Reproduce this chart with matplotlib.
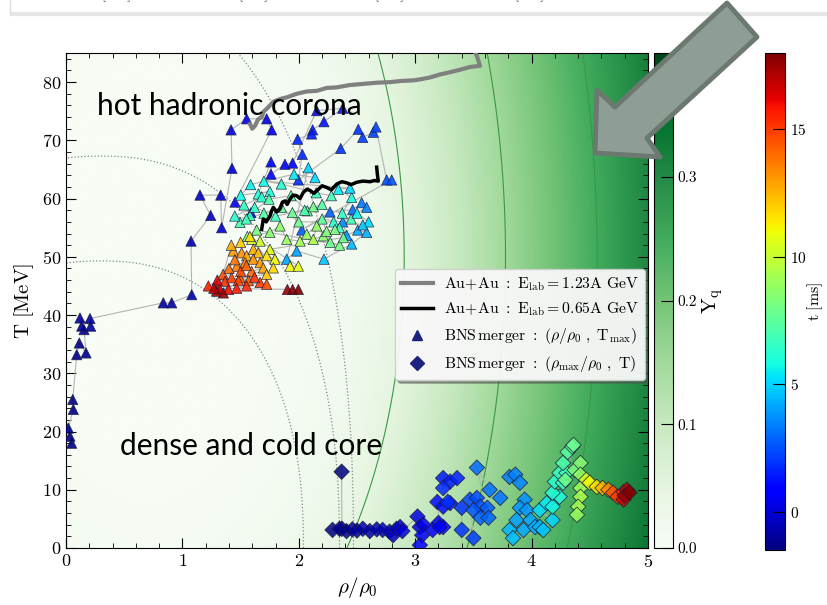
import matplotlib.pyplot as plt
import numpy as np
from matplotlib.colors import Normalize
from matplotlib.cm import ScalarMappable
from matplotlib.patches import Polygon
from matplotlib.lines import Line2D
from matplotlib.ticker import MultipleLocator, FormatStrFormatter

plt.rcParams['font.family'] = 'serif'
plt.rcParams['font.serif'] = ['cmr10']
plt.rcParams['mathtext.fontset'] = 'cm'
plt.rcParams['axes.formatter.use_mathtext'] = True

# BNS merger tracers: (rho/rho0, T_max) with time in ms, roughly in time order
tri_rho = [0.049, 0.034, 0.020, 0.063, 0.058, 0.092, 0.114, 0.172, 0.155, 0.135, 0.120, 0.212, 0.206, 0.836, 0.908, 1.080,
           1.074, 1.243, 1.151, 1.329, 1.337, 1.426, 1.418, 1.552, 1.724, 1.767, 1.452, 1.589, 1.761, 1.761, 1.881, 1.947,
           2.154, 2.377, 2.216, 2.119, 2.110, 1.990, 2.030, 1.996, 2.360, 2.511, 2.549, 2.640, 2.663, 2.755, 2.798,
           2.025, 2.268, 2.463, 2.540, 2.583, 2.377, 2.411, 2.506, 2.583, 2.454, 2.216, 1.982, 1.896,
           2.082, 2.139, 1.959, 1.586, 1.501, 1.752, 1.652, 1.681, 1.529, 1.581, 1.495, 1.744, 1.933, 2.073, 1.945, 2.125,
           2.374, 2.454, 2.340, 2.440,
           1.700, 1.850, 2.150, 2.280, 2.200, 2.050, 1.800, 1.620, 1.450, 1.550, 1.700, 1.850, 2.000,
           2.300, 2.350, 2.450, 2.500, 2.600, 2.550, 2.200, 2.270, 2.350,
           1.638, 1.558, 1.752, 1.839, 1.896, 2.011, 2.068, 2.154, 2.125, 2.211, 2.239, 2.311, 2.383,
           1.752, 1.795, 1.724, 1.925, 1.996, 1.667, 1.595, 1.781, 1.580, 1.500,
           1.438, 1.509, 1.552, 1.609, 1.652, 1.467, 1.538, 1.609, 1.667, 1.695, 1.595, 1.724, 1.495, 1.567,
           1.420, 1.350, 1.400, 1.450, 1.500, 1.550,
           1.223, 1.294, 1.366, 1.423, 1.481, 1.395, 1.323, 1.466, 1.552, 1.667, 1.724, 1.300, 1.620,
           1.294, 1.352, 1.270, 1.902, 1.947, 1.996]
tri_T = [18.0, 19.2, 20.6, 23.8, 25.5, 33.2, 35.2, 33.5, 37.5, 38.1, 39.5, 38.1, 39.4, 42.1, 42.1, 43.5,
         52.7, 57.1, 60.6, 60.6, 55.0, 65.2, 71.8, 73.7, 73.7, 71.8, 59.4, 57.6, 66.3, 64.2, 65.9, 66.1,
         75.1, 75.5, 73.2, 71.8, 71.1, 70.2, 67.6, 63.2, 68.6, 71.9, 70.5, 71.4, 72.3, 63.2, 63.2,
         54.6, 57.7, 58.1, 59.3, 58.5, 56.0, 53.7, 54.6, 54.2, 52.2, 49.6, 51.0, 49.6,
         65.3, 63.6, 64.2, 62.4, 60.6, 61.2, 60.8, 60.3, 58.9, 57.1, 55.9, 59.9, 60.5, 57.9, 57.6, 58.6,
         57.5, 60.2, 61.6, 61.8,
         63.0, 62.5, 61.0, 60.5, 59.0, 58.0, 57.0, 58.5, 57.0, 56.5, 57.5, 58.5, 56.0,
         56.0, 55.0, 56.5, 57.5, 56.0, 55.5, 56.5, 52.5, 52.0,
         54.6, 53.5, 54.2, 55.3, 53.0, 52.7, 53.9, 55.3, 53.0, 53.6, 54.4, 54.7, 53.3,
         51.3, 49.6, 50.2, 48.4, 48.4, 52.7, 53.0, 48.1, 53.5, 52.5,
         51.0, 50.7, 50.2, 51.3, 50.7, 48.4, 49.0, 49.6, 49.0, 48.1, 47.5, 47.0, 46.4, 45.9,
         52.0, 47.0, 48.0, 49.5, 47.5, 48.5,
         45.0, 45.0, 45.8, 46.4, 45.9, 44.4, 44.4, 44.6, 45.0, 45.6, 45.3, 46.0, 46.5,
         44.1, 43.8, 44.6, 44.4, 44.4, 44.4]
tri_t = [-1.50, -1.45, -1.40, -1.35, -1.30, -1.25, -1.20, -1.15, -1.10, -1.05, -1.00, -0.95, -0.90, -0.85, -0.80, -0.70,
         -0.6, -0.4, -0.3, -0.2, -0.1, 0.0, 0.1, 0.2, 0.3, 0.4, 0.5, 0.6, 0.7, 0.8, 0.9, 1.0,
         1.1, 1.2, 1.3, 1.4, 1.5, 1.6, 1.7, 1.8, 1.9, 2.0, 2.1, 2.2, 2.3, 2.4, 2.5,
         2.7, 2.9, 3.1, 3.3, 3.5, 3.7, 3.9, 4.1, 4.3, 4.5, 4.7, 4.0, 4.2,
         5.0, 5.2, 5.4, 5.6, 5.8, 6.0, 6.2, 6.4, 6.6, 6.8, 7.0, 7.2, 7.4, 7.6, 7.8, 8.0,
         6.5, 6.0, 5.5, 5.0,
         5.8, 6.2, 6.6, 7.0, 7.3, 7.1, 6.8, 6.5, 6.3, 6.9, 7.2, 7.5, 7.8,
         6.4, 6.8, 7.0, 5.6, 5.2, 4.8, 7.6, 7.9, 8.1,
         8.2, 8.4, 8.6, 8.8, 9.0, 9.2, 9.0, 8.8, 9.4, 8.6, 8.4, 8.2, 8.0,
         10.6, 11.0, 11.4, 11.0, 10.8, 10.2, 10.4, 11.8, 11.6, 12.0,
         13.0, 13.2, 12.8, 12.6, 12.4, 13.6, 13.4, 13.2, 13.0, 12.8, 14.0, 12.2, 14.4, 14.2,
         12.6, 14.6, 14.0, 13.8, 14.8, 14.2,
         15.6, 15.4, 15.2, 15.0, 14.8, 16.0, 16.2, 15.8, 15.4, 15.0, 14.6, 16.4, 15.2,
         17.2, 17.6, 17.0, 17.4, 17.8, 18.0]

# BNS merger tracers: (rho_max/rho0, T)
dia_rho = [2.368, 2.37, 2.29, 2.35, 2.41, 2.46, 2.50, 2.55, 2.61, 2.67, 2.72, 2.78, 2.81, 2.84, 2.87, 2.89,
           3.02, 3.04, 3.07, 3.06, 3.04, 3.15, 3.20, 3.24, 3.21, 3.19, 3.24, 3.30, 3.24, 3.30, 3.36, 3.24, 3.28, 3.40, 3.40, 3.50,
           3.47, 3.53, 3.56, 3.50, 3.62, 3.56, 3.63, 3.53, 3.64, 3.73, 3.81, 3.86, 3.90,
           3.94, 3.90, 3.96, 3.87, 3.99, 3.93, 4.03, 4.07, 3.81, 3.84, 4.10, 4.18, 4.07,
           4.13, 4.18, 4.24, 4.18, 4.20, 4.27, 4.24, 4.30, 4.27,
           4.31, 4.35, 4.36, 4.29, 4.37,
           4.42, 4.42, 4.42, 4.42, 4.40, 4.39,
           4.47, 4.50, 4.56,
           4.61, 4.66,
           4.70, 4.74, 4.79,
           4.79, 4.82, 4.80, 4.84]
dia_T = [13.1, 3.3, 3.1, 3.3, 2.9, 3.2, 3.0, 3.3, 2.9, 3.2, 3.1, 2.8, 2.2, 3.3, 3.6, 2.9,
         5.4, 3.6, 4.0, 2.2, 0.5, 3.1, 4.3, 3.6, 3.6, 7.9, 7.1, 7.7, 12.0, 11.4, 12.0, 10.3, 7.9, 6.9, 3.1, 1.7,
         8.3, 8.6, 7.1, 6.5, 6.9, 5.2, 5.2, 13.8, 10.0, 8.6, 12.2, 12.6, 11.2,
         8.3, 6.9, 6.5, 4.8, 4.8, 3.1, 3.6, 3.6, 3.1, 1.7, 3.1, 4.8, 6.5,
         7.7, 7.1, 8.8, 9.5, 11.4, 11.2, 12.9, 12.9, 14.6,
         16.5, 17.4, 17.7, 11.7, 13.4,
         14.6, 12.6, 10.3, 8.8, 7.1, 5.7,
         11.7, 11.2, 10.5,
         10.3, 10.0,
         9.5, 8.8, 9.6,
         8.3, 10.0, 9.0, 9.5]
dia_t = [-1.5, -1.4, -1.3, -1.2, -1.1, -1.0, -0.9, -0.8, -0.7, -0.6, -0.5, -0.4, -0.3, -0.2, -0.1, 0.0,
         0.2, 0.3, 0.4, 0.5, 0.6, 0.7, 0.8, 0.9, 1.0, 1.1, 1.2, 1.3, 1.4, 1.5, 1.6, 1.7, 1.8, 1.9, 2.0, 2.1,
         2.3, 2.4, 2.5, 2.6, 2.7, 2.8, 2.9, 3.0, 3.1, 3.2, 3.3, 3.4, 3.5,
         3.7, 3.8, 3.9, 4.0, 4.1, 4.2, 4.3, 4.4, 4.5, 4.6, 4.8, 5.0, 5.2,
         5.5, 5.7, 5.9, 6.1, 6.3, 6.5, 6.7, 6.9, 7.1,
         7.4, 7.6, 7.8, 8.0, 8.2,
         8.5, 8.8, 9.1, 9.4, 9.2, 9.0,
         10.5, 11.0, 11.5,
         12.5, 13.5,
         14.5, 15.0, 15.5,
         16.5, 17.0, 17.5, 18.0]

# Au+Au heavy-ion trajectories
au123_rho = [1.581, 1.60, 1.624, 1.65, 1.681, 1.70, 1.724, 1.78, 1.838, 1.90, 1.982, 2.07, 2.154, 2.24, 2.326,
             2.44, 2.554, 2.67, 2.783, 2.88, 2.984, 3.05, 3.127, 3.21, 3.299, 3.38, 3.471, 3.557, 3.528, 3.50]
au123_T = [72.8, 72.0, 72.5, 73.6, 74.0, 75.0, 75.4, 76.6, 77.1, 77.4, 78.0, 78.4, 78.5, 79.0, 79.1,
           79.5, 79.7, 79.9, 80.0, 80.2, 80.3, 80.5, 80.8, 81.3, 81.7, 82.1, 82.6, 82.8, 84.6, 85.7]
au065_rho = [1.681, 1.695, 1.72, 1.753, 1.765, 1.781, 1.81, 1.838, 1.86, 1.881, 1.90, 1.924, 1.95, 1.982, 2.01,
             2.04, 2.07, 2.096, 2.13, 2.168, 2.20, 2.24, 2.28, 2.326, 2.37, 2.412, 2.45, 2.497, 2.55, 2.612,
             2.65, 2.683, 2.676, 2.669]
au065_T = [54.7, 56.5, 56.0, 57.0, 57.8, 58.5, 57.7, 58.2, 59.4, 59.6, 59.0, 59.9, 60.6, 60.5, 60.0,
           61.1, 61.6, 61.4, 60.9, 61.6, 62.2, 61.9, 61.5, 62.5, 62.9, 62.7, 62.4, 62.8, 63.0, 62.9,
           63.1, 63.0, 64.0, 65.4]

# Y_q background model and its contour levels
yq_rho_c, yq_T_c, yq_T_scale = 0.7, 50.0, 36.0
yq_slope, yq_u0, yq_soft = 0.128, 1.91, 0.3
yq_levels = [0.05, 0.15, 0.25]

# dotted isolines (rho half-width, T intercept)
iso_a = [1.74, 2.05, 2.17]
iso_b = [49.3, 67.3, 96.0]
iso_rho_c, iso_p = 0.3, 2.3

t_norm = Normalize(vmin=-1.5, vmax=18.0)

W, H = 828, 605
fig = plt.figure(figsize=(W / 100, H / 100), dpi=100)
ax = fig.add_axes([66 / W, 57 / H, 582 / W, 495 / H])
cax_y = fig.add_axes([654 / W, 57 / H, 19 / W, 495 / H])
cax_t = fig.add_axes([765 / W, 55 / H, 20 / W, 497 / H])

rg = np.linspace(0, 5, 500)
tg = np.linspace(0, 85, 400)
R, TT = np.meshgrid(rg, tg)
u = np.sqrt((R - yq_rho_c) ** 2 + ((TT - yq_T_c) / yq_T_scale) ** 2)
Yq = yq_slope * yq_soft * np.log1p(np.exp((u - yq_u0) / yq_soft))
im = ax.imshow(Yq, origin='lower', extent=[0, 5, 0, 85], aspect='auto',
               cmap='Greens', vmin=0, vmax=0.4, zorder=0)
ax.contour(R, TT, Yq, levels=yq_levels, colors='#3a9844', linewidths=0.8, zorder=1)

th = np.linspace(0, np.pi, 400)
for a, b in zip(iso_a, iso_b):
    c, s = np.cos(th), np.sin(th)
    x = iso_rho_c + a * np.sign(c) * np.abs(c) ** (2 / iso_p)
    y = b * s ** (2 / iso_p)
    ax.plot(x, y, ls=':', color='#7f8c8a', lw=0.9, zorder=1)

ax.plot(tri_rho, tri_T, color='#b4b4b4', lw=0.8, zorder=2)
ax.plot(dia_rho, dia_T, color='#a8b8a8', lw=0.8, zorder=2)
ax.scatter(tri_rho, tri_T, c=tri_t, cmap='jet', norm=t_norm, marker='^', s=55,
           edgecolors='#1e1e3a', linewidths=0.5, alpha=0.9, zorder=3)
ax.scatter(dia_rho, dia_T, c=dia_t, cmap='jet', norm=t_norm, marker='D', s=62,
           edgecolors='#1e1e3a', linewidths=0.6, alpha=0.85, zorder=3)
ax.plot(au123_rho, au123_T, color='#808080', lw=3, zorder=4, solid_joinstyle='round')
ax.plot(au065_rho, au065_T, color='black', lw=2.5, zorder=4, solid_joinstyle='round')

ax.set_xlim(0, 5)
ax.set_ylim(0, 85)
ax.set_xticks(range(6))
ax.set_yticks(range(0, 90, 10))
ax.xaxis.set_minor_locator(MultipleLocator(0.2))
ax.yaxis.set_minor_locator(MultipleLocator(2))
ax.tick_params(which='both', direction='in', top=True, right=True, labelsize=13)
ax.tick_params(which='major', length=7, width=0.8)
ax.tick_params(which='minor', length=3.5, width=0.6)
ax.set_xlabel(r'$\rho/\rho_0$', fontsize=15, labelpad=4)
ax.set_ylabel(r'$\mathrm{T\ [MeV]}$', fontsize=15, labelpad=4)

handles = [Line2D([], [], color='#808080', lw=3),
           Line2D([], [], color='black', lw=2.5),
           Line2D([], [], marker='^', ls='', color='#1a237e', markersize=7),
           Line2D([], [], marker='D', ls='', color='#1a237e', markersize=7)]
labels = [r'$\mathrm{Au\!+\!Au\ :\ E_{lab} = 1.23A\ GeV}$',
          r'$\mathrm{Au\!+\!Au\ :\ E_{lab} = 0.65A\ GeV}$',
          r'$\mathrm{BNS\,merger\ :\ (}\rho/\rho_0\mathrm{\ ,\ T_{max})}$',
          r'$\mathrm{BNS\,merger\ :\ (}\rho_{\mathrm{max}}/\rho_0\mathrm{\ ,\ T)}$']
leg = ax.legend(handles, labels, loc='center right', bbox_to_anchor=(1.0, 0.4515),
                borderaxespad=0.2, fontsize=11.3, fancybox=True, shadow=True,
                framealpha=0.92, edgecolor='#cccccc', handletextpad=0.7)
leg.set_zorder(6)

cb1 = fig.colorbar(im, cax=cax_y, ticks=[0, 0.1, 0.2, 0.3])
cb1.ax.yaxis.set_major_formatter(FormatStrFormatter('%.1f'))
cb1.ax.tick_params(direction='in', length=9, width=0.8, labelsize=11)
cb1.set_label(r'$\mathrm{Y_q}$', fontsize=15, labelpad=2)

cb2 = fig.colorbar(ScalarMappable(norm=t_norm, cmap='jet'), cax=cax_t, ticks=[0, 5, 10, 15])
cb2.ax.tick_params(direction='in', length=9, width=0.8, labelsize=11)
cb2.set_label(r'$\mathrm{t\ [ms]}$', fontsize=11.5, labelpad=-1)

fig.text(97 / W, 1 - 115 / H, 'hot hadronic corona', family='Lato', fontsize=21.5,
         va='baseline', zorder=8)
fig.text(120 / W, 1 - 455 / H, 'dense and cold core', family='Lato', fontsize=21.5,
         va='baseline', zorder=8)

# pointer arrow drawn across the axes and the colorbar
arrow_px = [(727, 3), (757, 37), (647, 138), (660, 157), (595, 153), (597, 90), (615, 107)]
arrow = Polygon([(x / W, 1 - y / H) for x, y in arrow_px], closed=True,
                facecolor='#8e9e94', edgecolor='#6b7970', lw=3.5, joinstyle='round',
                transform=fig.transFigure, zorder=20)
fig.add_artist(arrow)

# strip left over from the panel above
fig.add_artist(Line2D([12 / W, 1], [1 - 14 / H, 1 - 14 / H], transform=fig.transFigure,
                      color='#e6e6e6', lw=3))
fig.add_artist(Line2D([10 / W, 10 / W], [1 - 14 / H, 1], transform=fig.transFigure,
                      color='#dddddd', lw=1))
for xc in [110, 247, 383, 523]:
    fig.text(xc / W, 1 - 4 / H, r'$\mathrm{x\ [km]}$', ha='center', va='bottom',
             fontsize=11, color='#555555')

fig.savefig('out.png', dpi=100)
